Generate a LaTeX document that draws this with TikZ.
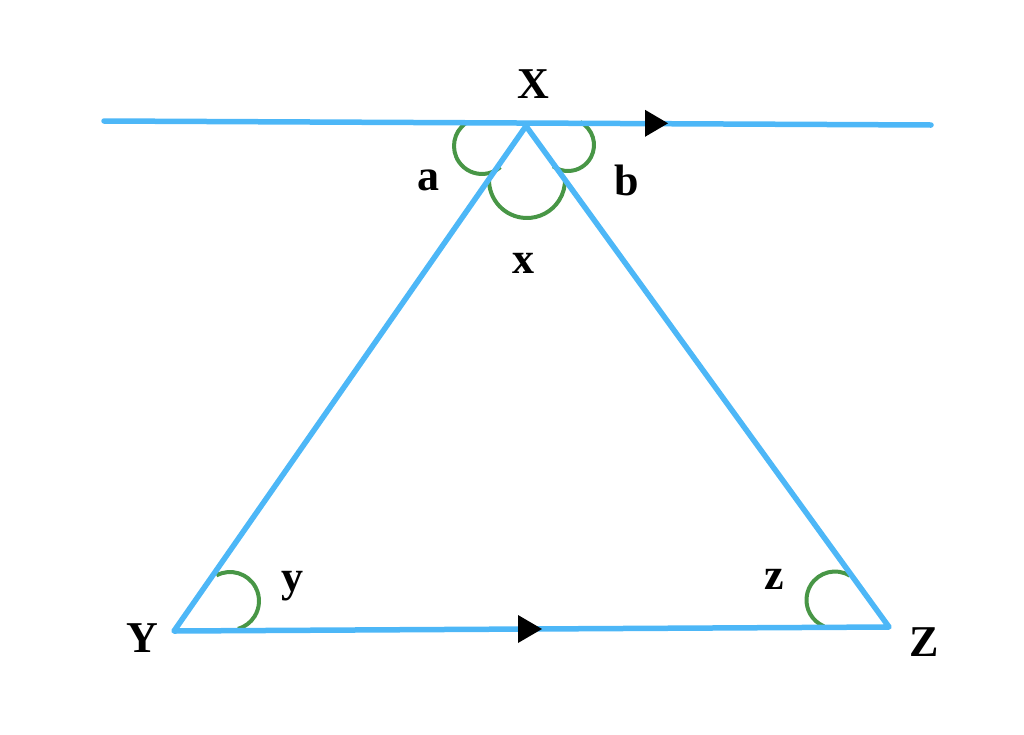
\documentclass[tikz,border=0pt]{standalone}
\usepackage{fontspec}
\setmainfont{Liberation Serif}
\definecolor{lineblue}{RGB}{77,183,247}
\definecolor{anglegreen}{RGB}{72,150,70}
\begin{document}
\begin{tikzpicture}[x=1pt,y=-1pt,
  side/.style={lineblue,line width=5.5pt,line cap=round,line join=round},
  anglearc/.style={anglegreen,line width=4pt},
  tri/.style={fill=black},
  lbl/.style={anchor=base,inner sep=0pt,font=\fontsize{44}{44}\selectfont\bfseries}]
\useasboundingbox (0,0) rectangle (1024,734);
% points
\coordinate (L) at (104,121);
\coordinate (R) at (931,125);
\coordinate (X) at (526,126);
\coordinate (Y) at (174,631);
\coordinate (Z) at (889,627);
% angle arcs (y axis points down: angles measured clockwise)
\draw[anglearc] (482,146) ++(-125:28) arc[start angle=-125,end angle=-311,radius=28];
\draw[anglearc] (568,145) ++(-62:26) arc[start angle=-62,end angle=125,radius=26];
\draw[anglearc] (527,180) ++(-178:38) arc[start angle=-178,end angle=-362,radius=38];
\draw[anglearc] (230,601) ++(-118:29) arc[start angle=-118,end angle=74,radius=29];
\draw[anglearc] (835,600) ++(-59:28.5) arc[start angle=-59,end angle=-247,radius=28.5];
% lines
\draw[side] (L) -- (R);
\draw[side] (Y) -- (X) -- (Z) -- cycle;
% arrowheads
\fill[tri] (668,123.3) -- (645,109.8) -- (645,136.8) -- cycle;
\fill[tri] (542,629) -- (518,615) -- (518,643) -- cycle;
% labels
\node[lbl] (lX) at (533,98) {X};
\node[lbl] (lY) at (142,652) {Y};
\node[lbl] (lZ) at (924,656) {Z};
\node[lbl] (la) at (428,190) {a};
\node[lbl] (lb) at (627,195) {b};
\node[lbl] (lx) at (523,273) {x};
\node[lbl] (ly) at (292,591) {y};
\node[lbl] (lz) at (774,589) {z};
\end{tikzpicture}
\end{document}
